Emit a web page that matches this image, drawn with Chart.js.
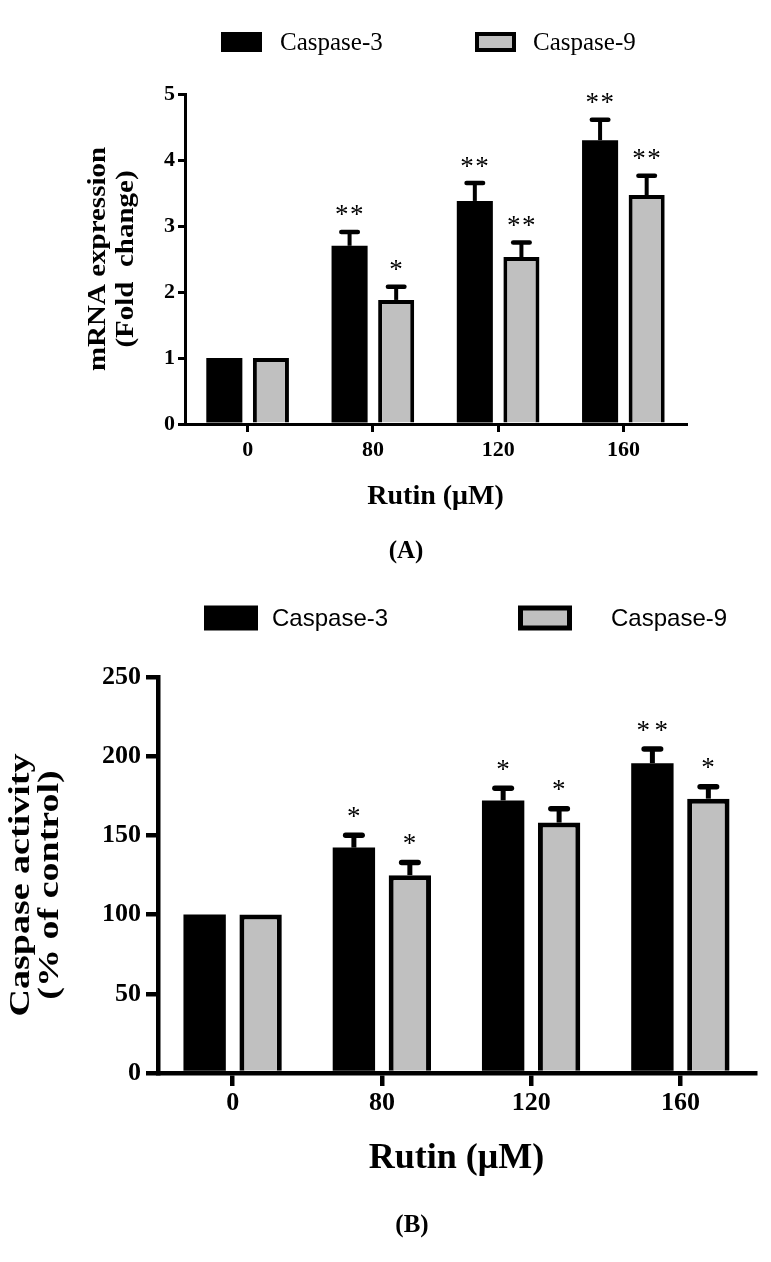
<!DOCTYPE html>
<html>
<head>
<meta charset="utf-8">
<script src="https://cdn.jsdelivr.net/npm/chart.js@4.4.1/dist/chart.umd.min.js"></script>
<style>
  html, body { margin:0; padding:0; background:#fff; }
  canvas { display:block; }
</style>
</head>
<body>
<canvas id="chartA" width="771" height="600"></canvas>
<canvas id="chartB" width="771" height="662"></canvas>
<script>
// values
const doses = ['0', '80', '120', '160'];
const seriesNames = ['Caspase-3', 'Caspase-9'];

// (A) mRNA expression, fold change
const mrnaCasp3 = [1.0, 2.70, 3.38, 4.30];
const mrnaCasp3Err = [0, 0.21, 0.27, 0.31];
const mrnaCasp3Stars = ['', '**', '**', '**'];
const mrnaCasp9 = [1.0, 1.88, 2.53, 3.47];
const mrnaCasp9Err = [0, 0.20, 0.22, 0.29];
const mrnaCasp9Stars = ['', '*', '**', '**'];

// (B) caspase activity, % of control
const actCasp3 = [100, 142.3, 172.1, 195.6];
const actCasp3Err = [0, 7.8, 7.6, 8.9];
const actCasp3Stars = ['', '*', '*', '**'];
const actCasp9 = [100, 124.9, 158.1, 173.2];
const actCasp9Err = [0, 8.0, 8.8, 7.5];
const actCasp9Stars = ['', '*', '*', '*'];

const SERIF = "'Liberation Serif', 'Times New Roman', serif";
const SANS = "'Liberation Sans', Arial, sans-serif";
const GRAY = '#c0c0c0';

// error bars (upper half only) + significance stars + legend + y title + panel letter
const decorations = {
  id: 'decorations',
  afterDatasetsDraw(chart, args, o) {
    const ctx = chart.ctx;
    const yScale = chart.scales.y;
    chart.data.datasets.forEach((ds, i) => {
      const meta = chart.getDatasetMeta(i);
      meta.data.forEach((bar, j) => {
        const err = ds.errors[j];
        const value = ds.data[j];
        let top = bar.y;
        ctx.save();
        ctx.strokeStyle = '#000';
        if (err) {
          top = yScale.getPixelForValue(value + err);
          ctx.lineWidth = o.stemWidth;
          ctx.lineCap = 'butt';
          ctx.beginPath(); ctx.moveTo(bar.x, bar.y); ctx.lineTo(bar.x, top); ctx.stroke();
          ctx.lineWidth = o.capThick;
          ctx.lineCap = 'round';
          const half = (o.capWidth - o.capThick) / 2;
          ctx.beginPath(); ctx.moveTo(bar.x - half, top); ctx.lineTo(bar.x + half, top); ctx.stroke();
        }
        const s = ds.stars[j];
        if (s) {
          ctx.font = o.starFont;
          ctx.fillStyle = '#000';
          ctx.textAlign = 'left';
          ctx.textBaseline = 'alphabetic';
          const m = ctx.measureText('*');
          const w = m.actualBoundingBoxRight + m.actualBoundingBoxLeft;
          const cy = top - o.starGap;
          const base = cy + (m.actualBoundingBoxAscent - m.actualBoundingBoxDescent) / 2;
          const total = s.length * w + (s.length - 1) * o.starSpacing;
          let x = bar.x - total / 2;
          for (let k = 0; k < s.length; k++) {
            ctx.fillText('*', x + m.actualBoundingBoxLeft, base);
            x += w + o.starSpacing;
          }
        }
        ctx.restore();
      });
    });

    ctx.save();
    // legend
    chart.data.datasets.forEach((ds, i) => {
      const L = o.legend;
      const bx = L.boxX[i], by = L.y - L.boxH / 2;
      ctx.fillStyle = '#000';
      ctx.fillRect(bx, by, L.boxW, L.boxH);
      if (ds.backgroundColor !== '#000') {
        ctx.fillStyle = ds.backgroundColor;
        ctx.fillRect(bx + L.border, by + L.border, L.boxW - 2 * L.border, L.boxH - 2 * L.border);
      }
      ctx.fillStyle = '#000';
      ctx.font = L.font;
      ctx.textAlign = 'left';
      ctx.textBaseline = 'middle';
      ctx.fillText(ds.label, L.textX[i], L.y + 1);
    });

    // rotated y-axis title, a bit condensed like the original
    const T = o.yTitle;
    ctx.font = T.font;
    ctx.textAlign = 'center';
    ctx.textBaseline = 'middle';
    T.lines.forEach((line, i) => {
      ctx.save();
      ctx.translate(T.x[i], T.y);
      ctx.rotate(-Math.PI / 2);
      ctx.scale(1, T.squash);
      ctx.fillText(line, 0, 0);
      ctx.restore();
    });

    // panel letter
    ctx.font = o.panel.font;
    ctx.textAlign = 'center';
    ctx.textBaseline = 'middle';
    ctx.fillText(o.panel.text, o.panel.x, o.panel.y);
    ctx.restore();
  }
};

function makeChart(id, cfg) {
  const datasets = [
    { label: seriesNames[0], data: cfg.s3, errors: cfg.e3, stars: cfg.st3,
      backgroundColor: '#000', borderColor: '#000', borderWidth: 0,
      categoryPercentage: cfg.catPct, barPercentage: cfg.barPct },
    { label: seriesNames[1], data: cfg.s9, errors: cfg.e9, stars: cfg.st9,
      backgroundColor: GRAY, borderColor: '#000', borderWidth: cfg.barBorder,
      categoryPercentage: cfg.catPct, barPercentage: cfg.barPct }
  ];
  return new Chart(document.getElementById(id), {
    type: 'bar',
    data: { labels: doses, datasets },
    plugins: [decorations],
    options: {
      responsive: false,
      animation: false,
      layout: { padding: cfg.padding },
      scales: {
        x: {
          grid: { offset: false, drawOnChartArea: false, drawTicks: true, tickLength: cfg.xTickLen, color: '#000', lineWidth: cfg.axisWidth },
          border: { color: '#000', width: cfg.axisWidth },
          ticks: { color: '#000', padding: cfg.xTickPad, font: { family: SERIF, size: cfg.tickSize, weight: 'bold' } },
          title: { display: true, text: 'Rutin (\u03bcM)', color: '#000', padding: 0,
                   font: { family: SERIF, size: cfg.xTitleSize, weight: 'bold', lineHeight: 1.2 } },
          afterFit: s => { s.height = cfg.xHeight; }
        },
        y: {
          min: 0, max: cfg.yMax,
          grid: { drawOnChartArea: false, drawTicks: true, tickLength: cfg.yTickLen, color: '#000', lineWidth: cfg.axisWidth },
          border: { color: '#000', width: cfg.axisWidth },
          ticks: { stepSize: cfg.yStep, color: '#000', padding: cfg.yTickPad, font: { family: SERIF, size: cfg.tickSize, weight: 'bold' } },
          afterFit: s => { s.width = cfg.yWidth; }
        }
      },
      plugins: {
        legend: { display: false },
        tooltip: { enabled: false },
        decorations: cfg.deco
      }
    }
  });
}

makeChart('chartA', {
  s3: mrnaCasp3, e3: mrnaCasp3Err, st3: mrnaCasp3Stars,
  s9: mrnaCasp9, e9: mrnaCasp9Err, st9: mrnaCasp9Stars,
  yMax: 5, yStep: 1,
  xTitleSize: 28, tickSize: 22,
  catPct: 0.744, barPct: 0.774, barBorder: 4, axisWidth: 3,
  xTickLen: 8, xTickPad: 5, yTickLen: 7, yTickPad: 3,
  padding: { left: 84, right: 85, top: 94, bottom: 86 },
  yWidth: 101, xHeight: 90,
  deco: {
    stemWidth: 4, capThick: 4.5, capWidth: 21,
    starFont: '27px ' + SERIF, starGap: 21, starSpacing: 3,
    legend: { y: 42, boxW: 41, boxH: 20, border: 4, boxX: [221, 475], textX: [280, 533], font: '25px ' + SERIF },
    yTitle: { lines: ['mRNA expression', '(Fold  change)'], x: [98, 126], y: 259, squash: 0.9, font: 'bold 29px ' + SERIF },
    panel: { text: '(A)', x: 406, y: 552, font: 'bold 25px ' + SERIF }
  }
});

makeChart('chartB', {
  s3: actCasp3, e3: actCasp3Err, st3: actCasp3Stars,
  s9: actCasp9, e9: actCasp9Err, st9: actCasp9Stars,
  yMax: 250, yStep: 50,
  xTitleSize: 36, tickSize: 26,
  catPct: 0.75, barPct: 0.757, barBorder: 5, axisWidth: 4.5,
  xTickLen: 13, xTickPad: 2, yTickLen: 12, yTickPad: 5,
  padding: { left: 7, right: 16, top: 77, bottom: 82 },
  yWidth: 151, xHeight: 107,
  deco: {
    stemWidth: 5, capThick: 5.5, capWidth: 22,
    starFont: '27px ' + SERIF, starGap: 23, starSpacing: 6,
    legend: { y: 18, boxW: 54, boxH: 25, border: 5, boxX: [204, 518], textX: [272, 611], font: '24px ' + SANS },
    yTitle: { lines: ['Caspase activity', '(% of control)'], x: [21.5, 50], y: 285, squash: 0.8, font: 'bold 38px ' + SERIF },
    panel: { text: '(B)', x: 412, y: 626, font: 'bold 25px ' + SERIF }
  }
});
</script>
</body>
</html>
